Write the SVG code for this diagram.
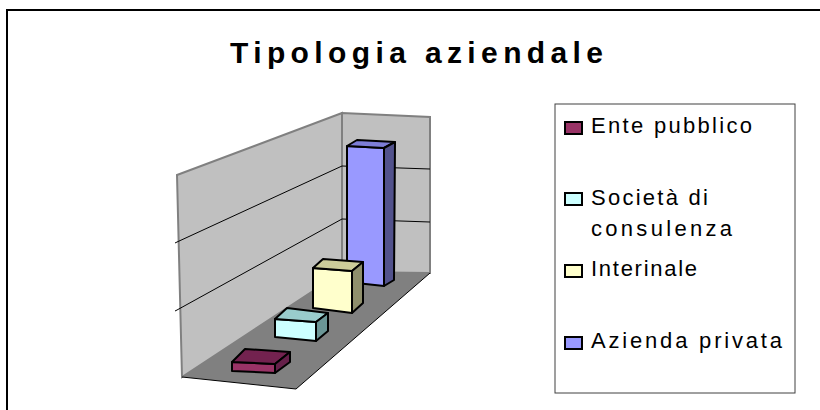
<svg xmlns="http://www.w3.org/2000/svg" width="820" height="410" viewBox="0 0 820 410">
<style>
.wall{fill:#c0c0c0;stroke:#808080;stroke-width:2}
.grid{stroke:#000;stroke-width:1;fill:none}
.bar{stroke:#000;stroke-width:2;stroke-linejoin:round}
.sw{stroke:#000;stroke-width:2}
</style>
<rect width="820" height="410" fill="#fff"/>
<path d="M7,410 V10 H820" fill="none" stroke="#000" stroke-width="2"/>
<text x="230" y="63" font-family="'Liberation Sans', Arial, sans-serif" font-size="30" font-weight="bold" fill="#000" textLength="373" lengthAdjust="spacing">Tipologia aziendale</text>

<g id="plot">
  <polygon class="wall" points="177,175 342,113 342,272 182,377"/>
  <polygon class="wall" points="342,113 430,117 430,273 342,272"/>
  <polygon points="182,377 296,389 430,273 342,272" fill="#808080" stroke="none"/>
  <polyline points="182,377 296,389 430,273" fill="none" stroke="#000" stroke-width="1"/>
  <g class="grid">
    <polyline points="175,243 177,242 342,166 430,169"/>
    <polyline points="175,311 177,310 342,219 430,222"/>
  </g>
</g>

<g id="bar-azienda-privata">
  <polygon class="bar" fill="#9999ff" points="347,146 384,148 384,286 347,282"/>
  <polygon class="bar" fill="#7d7dd6" points="347,146 357,140 395,142 384,148"/>
  <polygon class="bar" fill="#52528c" points="384,148 395,142 394,280 384,286"/>
</g>
<g id="bar-interinale">
  <polygon class="bar" fill="#ffffcc" points="313,268 352,271 352,313 313,308"/>
  <polygon class="bar" fill="#cccc99" points="313,268 323,259 363,262 352,271"/>
  <polygon class="bar" fill="#8f8f6c" points="352,271 363,262 363,303 352,313"/>
</g>
<g id="bar-societa">
  <polygon class="bar" fill="#ccffff" points="275,319 316,322 316,341 275,337"/>
  <polygon class="bar" fill="#99cccc" points="275,319 287,308 328,313 316,322"/>
  <polygon class="bar" fill="#6b9696" points="316,322 328,313 328,331 316,341"/>
</g>
<g id="bar-ente">
  <polygon class="bar" fill="#993366" points="232,362 275,364 275,373 232,371"/>
  <polygon class="bar" fill="#73224f" points="232,362 245,349 290,352 275,364"/>
  <polygon class="bar" fill="#66204a" points="275,364 290,352 290,362 275,373"/>
</g>

<g id="legend" font-family="'Liberation Sans', Arial, sans-serif" font-size="22" fill="#000">
  <rect x="555" y="104" width="240" height="289" fill="#fff" stroke="#404040" stroke-width="1"/>
  <rect class="sw" x="565" y="122" width="17" height="12" fill="#993366"/>
  <rect class="sw" x="565" y="193" width="17" height="12" fill="#ccffff"/>
  <rect class="sw" x="565" y="265" width="17" height="12" fill="#ffffcc"/>
  <rect class="sw" x="565" y="337" width="17" height="12" fill="#9999ff"/>
  <text x="591" y="133" textLength="161" lengthAdjust="spacing">Ente pubblico</text>
  <text x="591" y="205" textLength="117" lengthAdjust="spacing">Società di</text>
  <text x="591" y="236" textLength="141" lengthAdjust="spacing">consulenza</text>
  <text x="591" y="276" textLength="106" lengthAdjust="spacing">Interinale</text>
  <text x="591" y="348" textLength="191" lengthAdjust="spacing">Azienda privata</text>
</g>
</svg>
